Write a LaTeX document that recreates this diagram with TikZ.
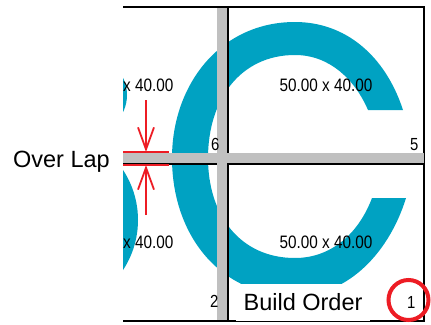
\documentclass[tikz,border=0pt]{standalone}
\usepackage{fontspec}
\setmainfont{Liberation Sans}
\newfontfamily\dimfont[FakeStretch=0.85]{Liberation Sans}
\usetikzlibrary{arrows.meta,positioning,calc}
\definecolor{LetterCyan}{RGB}{0,162,194}
\definecolor{LapGray}{RGB}{192,192,192}
\definecolor{MarkRed}{RGB}{237,28,36}

\begin{document}
\begin{tikzpicture}[
      x=1pt,y=-1pt,
      tileBox/.style={draw=black,line width=1.2pt,minimum width=196pt,
                      minimum height=157pt,inner sep=0pt},
      dimText/.style={font=\dimfont\fontsize{18}{20}\selectfont,inner sep=0pt},
      tileNum/.style={font=\dimfont\fontsize{17.5}{19}\selectfont,inner sep=0pt,
                      anchor=base east},
      bigLabel/.style={font=\fontsize{23.5}{28}\selectfont,inner sep=0pt},
      lapTick/.style={MarkRed,line width=1.8pt},
      lapArrow/.style={-{Straight Barb[length=22pt,width=16pt]},MarkRed,line width=1.8pt}
    ]
    \useasboundingbox (0,0) rectangle (431,324);

    \begin{scope}
      \clip (123,0) rectangle (431,324);

      % Letter pieces
      \fill[LetterCyan] (403,110) .. controls (385,55) and (345,22) .. (295,22)
        .. controls (220,22) and (172,85) .. (172,158)
        .. controls (172,235) and (220,296) .. (295,296)
        .. controls (350,296) and (390,250) .. (406,198)
        -- (372,198) .. controls (358,235) and (330,258) .. (295,258)
        .. controls (240,258) and (208,215) .. (208,158)
        .. controls (208,100) and (240,55) .. (295,55)
        .. controls (330,55) and (355,80) .. (368,110) -- cycle;
      \fill[LetterCyan] (88,95) circle[radius=39];
      \fill[LetterCyan] (47,220) circle[radius=91];

      % Tiles
      \node(t6)[tileBox] at (130,85.5) {};
      \node(t5)[tileBox] at (326,85.5) {};
      \node(t2)[tileBox] at (130,242.5) {};
      \node(t1)[tileBox] at (326,242.5) {};

      % Overlap bars
      \fill[LapGray] (217,7.6) rectangle (227,320.4);
      \fill[LapGray] (123,153) rectangle (424,163.4);

      % Tile sizes and numbers
      \node[dimText] at ($(t6)+(-3,0)$) {50.00 x 40.00};
      \node[dimText] at (t5) {50.00 x 40.00};
      \node[dimText] at ($(t2)+(-3,0)$) {50.00 x 40.00};
      \node[dimText] at (t1) {50.00 x 40.00};
      \node[tileNum] at ($(t6.south east)+(-9,-14)$) {6};
      \node[tileNum] at ($(t5.south east)+(-6,-14)$) {5};
      \node[tileNum] at ($(t2.south east)+(-10,-14)$) {2};
      \node[tileNum] at ($(t1.south east)+(-9,-13)$) {1};
    \end{scope}

    % Over lap marks
    \coordinate(lapTopL) at (123,152);
    \coordinate(lapTopR) at (169,152);
    \coordinate(lapBotL) at (123,165);
    \coordinate(lapBotR) at (169,165);
    \draw[lapTick] (lapTopL) -- (lapTopR);
    \draw[lapTick] (lapBotL) -- (lapBotR);
    \coordinate(arTopStart) at (146,100);
    \coordinate(arBotStart) at (146,215);
    \draw[lapArrow] (arTopStart) -- (arTopStart |- lapTopL);
    \draw[lapArrow] (arBotStart) -- (arBotStart |- lapBotL);
    \node(lapLbl)[bigLabel,anchor=base east] at (110,167) {Over Lap};

    % Build order
    \node(order)[bigLabel,fill=white,minimum width=134pt,minimum height=37pt]
      at (303,302) {Build Order};
    \node(ring)[draw=MarkRed,line width=4pt,circle,minimum size=40pt] at (408.5,300) {};
  \end{tikzpicture}
\end{document}
